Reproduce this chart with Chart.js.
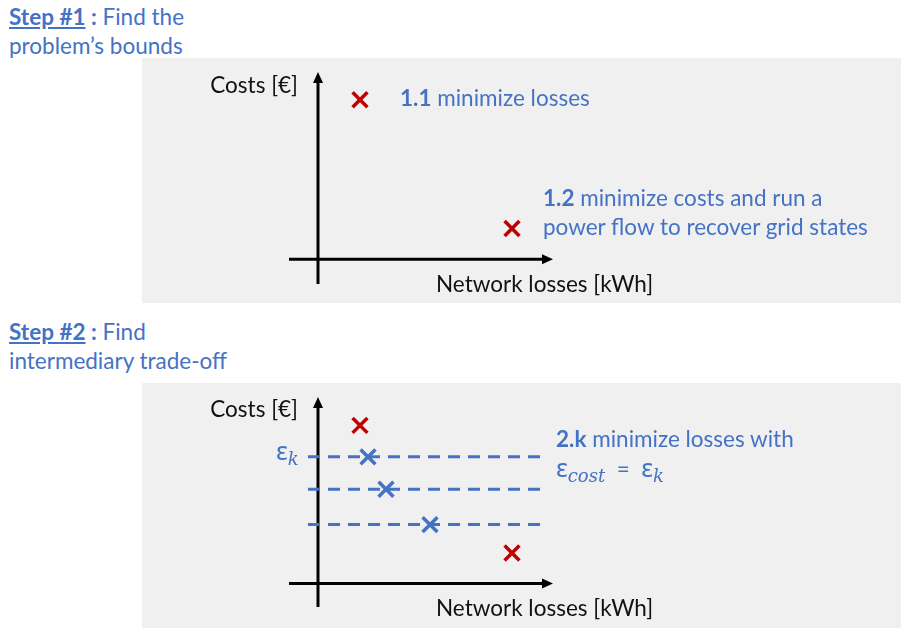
<!DOCTYPE html>
<html>
<head>
<meta charset="utf-8">
<script src="https://cdn.jsdelivr.net/npm/chart.js@4.4.0/dist/chart.umd.min.js"></script>
<style>
    body { margin: 0; background: #fff; font-family: Lato, 'Open Sans', sans-serif; color: #4472c4; }
    #page { position: relative; width: 901px; height: 628px; overflow: hidden; }
    .panel { position: absolute; left: 142px; width: 759px; background: #f0f0f0; }
    .txt { position: absolute; font-size: 22.5px; line-height: 29px; white-space: nowrap; }
    .blk { color: #111; }
    .step { font-weight: 700; text-decoration: underline; }
    .eps { font-family: 'Noto Sans', 'DejaVu Sans', sans-serif; font-size: 25px; }
    .mi { font-family: 'DejaVu Serif', 'Liberation Serif', serif; font-style: italic; font-size: 18px; position: relative; top: 5px; }
</style>
</head>
<body>
<div id="page">
    <div class="txt" style="left:9px;top:2px;"><span class="step">Step #1</span><b> :</b> Find the<br>problem’s bounds</div>
    <div class="txt" style="left:9px;top:317px;"><span class="step">Step #2</span><b> :</b> Find<br>intermediary trade-off</div>

    <div class="panel" style="top:58px;height:245px;"><canvas id="chart-bounds"></canvas></div>
    <div class="panel" style="top:383px;height:245px;"><canvas id="chart-tradeoff"></canvas></div>

    <div class="txt blk" style="right:603px;top:70px;">Costs [€]</div>
    <div class="txt blk" style="left:436px;top:269px;">Network losses [kWh]</div>
    <div class="txt" style="left:400px;top:83px;"><b>1.1</b> minimize losses</div>
    <div class="txt" style="left:543px;top:183px;"><b>1.2</b> minimize costs and run a<br>power flow to recover grid states</div>

    <div class="txt blk" style="right:603px;top:394px;">Costs [€]</div>
    <div class="txt blk" style="left:436px;top:593px;">Network losses [kWh]</div>
    <div class="txt" style="left:276px;top:436px;"><span class="eps">ε</span><span class="mi">k</span></div>
    <div class="txt" style="left:556px;top:424px;"><b>2.k</b> minimize losses with<br><span class="eps">ε</span><span class="mi">cost</span>&nbsp; =&nbsp; <span class="eps">ε</span><span class="mi">k</span></div>
</div>

<script>
// axis units: roughly 10 px per unit, origin where the axes cross
const boundLoss = [4.2, 19.4];      // 1.1 minimize losses, 1.2 minimize costs
const boundCost = [16.1, 3.1];
const epsLevels = [12.9, 9.6, 6.0]; // epsilon constraint levels on costs
const tradeLoss = [5.0, 6.8, 11.2]; // losses found for each level
const dashFrom = -1.0;
const dashTo = 22.7;

const RED = '#c00000';
const BLUE = '#4472c4';

// draws the two black axes with arrow heads, crossing at (0, 0)
const axesArrows = {
    id: 'axesArrows',
    beforeDatasetsDraw(chart) {
        const { ctx, chartArea, scales } = chart;
        const x0 = scales.x.getPixelForValue(0);
        const y0 = scales.y.getPixelForValue(0);
        ctx.save();
        ctx.strokeStyle = '#000';
        ctx.fillStyle = '#000';
        ctx.lineWidth = 3;
        ctx.beginPath();
        ctx.moveTo(x0, chartArea.bottom);
        ctx.lineTo(x0, chartArea.top + 8);
        ctx.moveTo(chartArea.left, y0);
        ctx.lineTo(chartArea.right - 8, y0);
        ctx.stroke();
        ctx.beginPath();
        ctx.moveTo(x0, chartArea.top);
        ctx.lineTo(x0 - 5, chartArea.top + 11);
        ctx.lineTo(x0 + 5, chartArea.top + 11);
        ctx.closePath();
        ctx.moveTo(chartArea.right, y0);
        ctx.lineTo(chartArea.right - 11, y0 - 5);
        ctx.lineTo(chartArea.right - 11, y0 + 5);
        ctx.closePath();
        ctx.fill();
        ctx.restore();
    }
};

function markers(xs, ys, color) {
    return {
        data: xs.map((x, i) => ({ x: x, y: ys[i] })),
        pointStyle: 'crossRot',
        pointRadius: 10.5,
        borderColor: color,
        borderWidth: 3.5,
        showLine: false
    };
}

function makeChart(id, datasets, yMin, yMax, pad) {
    return new Chart(document.getElementById(id), {
        type: 'scatter',
        data: { datasets: datasets },
        options: {
            responsive: true,
            maintainAspectRatio: false,
            animation: false,
            layout: { padding: pad },
            plugins: { legend: { display: false }, tooltip: { enabled: false } },
            scales: {
                x: { display: false, min: -2.9, max: 23.5 },
                y: { display: false, min: yMin, max: yMax }
            }
        },
        plugins: [axesArrows]
    });
}

makeChart('chart-bounds',
    [markers(boundLoss, boundCost, RED)],
    -2.5, 18.9,
    { left: 147, right: 348, top: 12, bottom: 19 });

const dashSets = epsLevels.map(e => ({
    data: [{ x: dashFrom, y: e }, { x: dashTo, y: e }],
    showLine: true,
    borderColor: BLUE,
    borderWidth: 3,
    borderDash: [12, 8],
    pointRadius: 0
}));

makeChart('chart-tradeoff',
    [...dashSets, markers(tradeLoss, epsLevels, BLUE), markers(boundLoss, boundCost, RED)],
    -2.4, 19.0,
    { left: 147, right: 348, top: 10, bottom: 21 });
</script>
</body>
</html>
